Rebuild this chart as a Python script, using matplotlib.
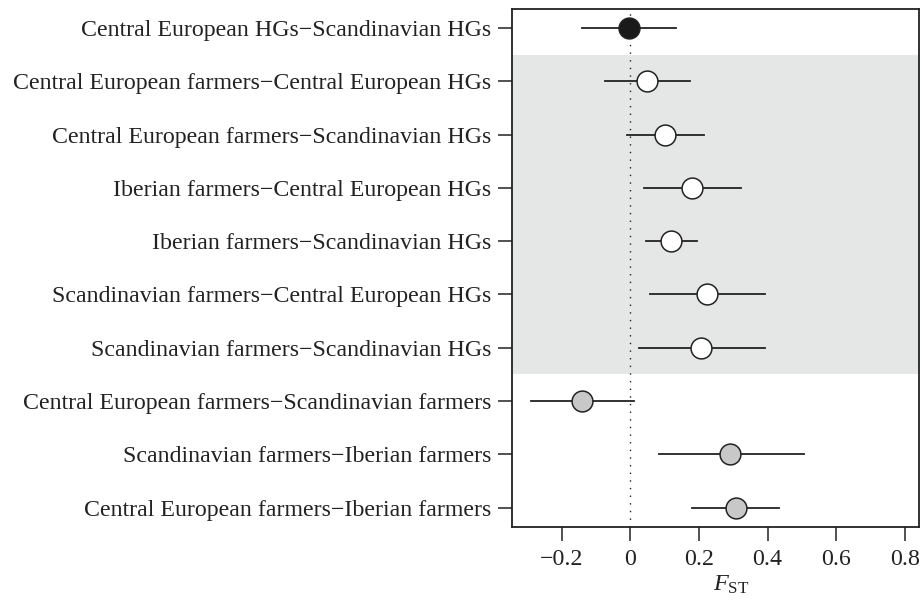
import matplotlib
matplotlib.use("Agg")
import matplotlib.pyplot as plt

# pairwise F_ST estimates with 95% intervals, top row first
pairs = [
    "Central European HGs\u2212Scandinavian HGs",
    "Central European farmers\u2212Central European HGs",
    "Central European farmers\u2212Scandinavian HGs",
    "Iberian farmers\u2212Central European HGs",
    "Iberian farmers\u2212Scandinavian HGs",
    "Scandinavian farmers\u2212Central European HGs",
    "Scandinavian farmers\u2212Scandinavian HGs",
    "Central European farmers\u2212Scandinavian farmers",
    "Scandinavian farmers\u2212Iberian farmers",
    "Central European farmers\u2212Iberian farmers",
]
fst = [-0.005, 0.049, 0.100, 0.179, 0.119, 0.222, 0.206, -0.141, 0.291, 0.307]
lower = [-0.140, -0.074, -0.011, 0.041, 0.046, 0.057, 0.026, -0.289, 0.083, 0.180]
upper = [0.132, 0.174, 0.216, 0.322, 0.194, 0.391, 0.391, 0.011, 0.505, 0.434]
group = ["hg", "mixed", "mixed", "mixed", "mixed", "mixed", "mixed",
         "farm", "farm", "farm"]
xticks = [-0.2, 0, 0.2, 0.4, 0.6, 0.8]

FILL = {"hg": "#1a1a1a", "mixed": "white", "farm": "#c8c8c8"}
INK = "#222222"

plt.rcParams["font.family"] = ["Liberation Serif", "DejaVu Serif"]
plt.rcParams["mathtext.fontset"] = "custom"
plt.rcParams["mathtext.rm"] = "Liberation Serif"
plt.rcParams["mathtext.it"] = "Liberation Serif:italic"

fig = plt.figure(figsize=(9.22, 6), dpi=100)
ax = fig.add_axes([0.5556, 0.1222, 0.4415, 0.8628])

rows = list(range(1, len(pairs) + 1))

# shaded block for farmer-HG comparisons
mixed_rows = [r for r, g in zip(rows, group) if g == "mixed"]
ax.axhspan(min(mixed_rows) - 0.5, max(mixed_rows) + 0.5,
           color="#e5e6e6", lw=0, zorder=0)

ax.axvline(0, color=INK, lw=1.0, ls=(0, (1, 4.5)), zorder=1)

for r, m, lo, hi, g in zip(rows, fst, lower, upper, group):
    ax.plot([lo, hi], [r, r], color=INK, lw=1.3, zorder=2)
    ax.plot(m, r, "o", ms=15, mfc=FILL[g], mec=INK, mew=1.1, zorder=3)

ax.set_xlim(-0.344, 0.842)
ax.set_ylim(len(pairs) + 0.36, 1 - 0.36)
ax.set_xticks(xticks)
ax.set_xticklabels(["\u22120.2", "0", "0.2", "0.4", "0.6", "0.8"])
ax.set_yticks(rows)
ax.set_yticklabels(pairs)
ax.tick_params(axis="both", length=10, width=1.1, color=INK,
               labelsize=17.2, labelcolor=INK)
ax.tick_params(axis="y", pad=5)
ax.tick_params(axis="x", pad=6)
for s in ax.spines.values():
    s.set_color(INK)
    s.set_linewidth(1.3)

ax.set_xlabel(r"$F_{\mathrm{ST}}$", fontsize=17.5, color=INK)
ax.xaxis.set_label_coords(0.537, -0.09)

fig.savefig("out.png", dpi=100)
